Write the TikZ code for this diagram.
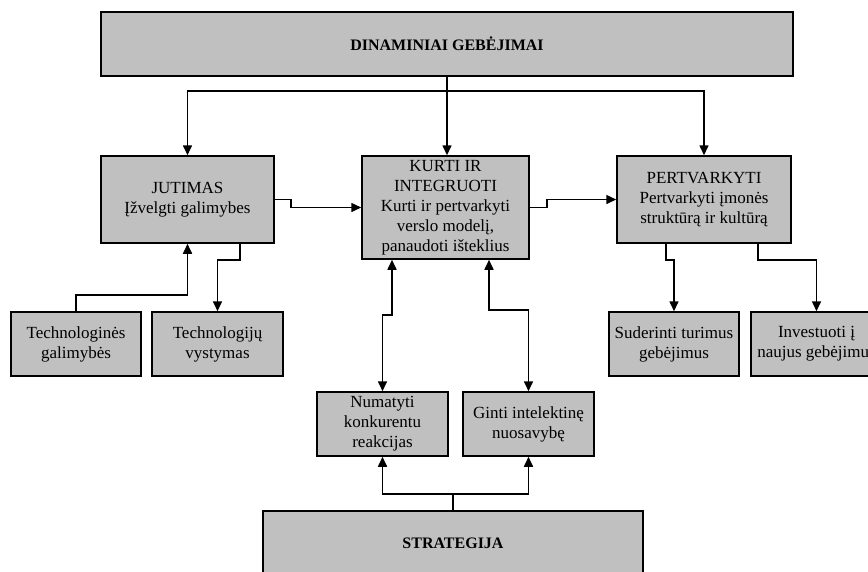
\documentclass[tikz,border=0pt]{standalone}
\usepackage{fontspec}
\setmainfont{Liberation Serif}
\usetikzlibrary{arrows.meta}
\definecolor{boxgray}{RGB}{192,192,192}

\begin{document}
\begin{tikzpicture}[
    x=1pt, y=-1pt,
    box/.style={rectangle, draw=black, line width=1.5pt, fill=boxgray,
                inner sep=0pt, align=center,
                font=\fontsize{17}{20}\selectfont},
    bigbox/.style={box, font=\fontsize{16}{20}\selectfont\bfseries},
    arr/.style={-{Triangle[length=10pt,width=9pt]}, line width=1.6pt},
    arrs/.style={{Triangle[length=10pt,width=9pt]}-{Triangle[length=10pt,width=9pt]}, line width=1.6pt}
]
\useasboundingbox (0,0) rectangle (868,571);
\clip (0,0) rectangle (868,571);

\node[bigbox, minimum width=692pt, minimum height=64pt] (dyn) at (447,44) {DINAMINIAI GEBĖJIMAI};
\node[box, minimum width=173pt, minimum height=87pt] (jut) at (187.5,199.5) {JUTIMAS\\Įžvelgti galimybes};
\node[box, minimum width=167pt, minimum height=103pt] (kurti) at (445.5,207.5) {KURTI IR\\INTEGRUOTI\\Kurti ir pertvarkyti\\verslo modelį,\\panaudoti išteklius};
\node[box, minimum width=174pt, minimum height=87pt] (pert) at (704,199.5) {PERTVARKYTI\\Pertvarkyti įmonės\\struktūrą ir kultūrą};
\node[box, minimum width=130pt, minimum height=64pt] (techgal) at (76,344) {Technologinės\\galimybės};
\node[box, minimum width=131pt, minimum height=64pt] (techvyst) at (217.5,344) {Technologijų\\vystymas};
\node[box, minimum width=131pt, minimum height=64pt] (numat) at (382.5,424) {Numatyti\\konkurentu\\reakcijas};
\node[box, minimum width=131pt, minimum height=64pt] (ginti) at (528.5,424) {Ginti intelektinę\\nuosavybę};
\node[box, minimum width=130pt, minimum height=64pt] (suder) at (674,344) {Suderinti turimus\\gebėjimus};
\node[box, minimum width=131pt, minimum height=64pt] (invest) at (816.5,344) {Investuoti į\\naujus gebėjimus};
\node[bigbox, minimum width=380pt, minimum height=64pt] (strat) at (453,543) {STRATEGIJA};

\coordinate (split) at (447,91);
\draw[line width=1.6pt] (dyn.south) -- (split);
\draw[arr] (split) -- (split |- kurti.north);
\draw[arr] (split) -| (jut.north);
\draw[arr] (split) -| (pert.north);

\draw[arr] (jut.east) -- ++(16,0) |- (kurti.west);
\draw[arr] (kurti.east) -- ++(17,0) |- (pert.west);

\draw[arr] (techgal.north) -- ++(0,-16) -| (jut.south);
\draw[arr] ([xshift=52.5pt]jut.south) -- ++(0,16) -| (techvyst.north);

\draw[arrs] ([xshift=-53.5pt]kurti.south) -- ++(0,55) -| (numat.north);
\draw[arrs] ([xshift=43.5pt]kurti.south) -- ++(0,50) -| (ginti.north);

\draw[arr] ([xshift=-38pt]pert.south) -- ++(0,16) -| (suder.north);
\draw[arr] ([xshift=54pt]pert.south) -- ++(0,16) -| (invest.north);

\draw[arr] (strat.north) -- ++(0,-16) -| (numat.south);
\draw[arr] (strat.north) -- ++(0,-16) -| (ginti.south);
\end{tikzpicture}
\end{document}
